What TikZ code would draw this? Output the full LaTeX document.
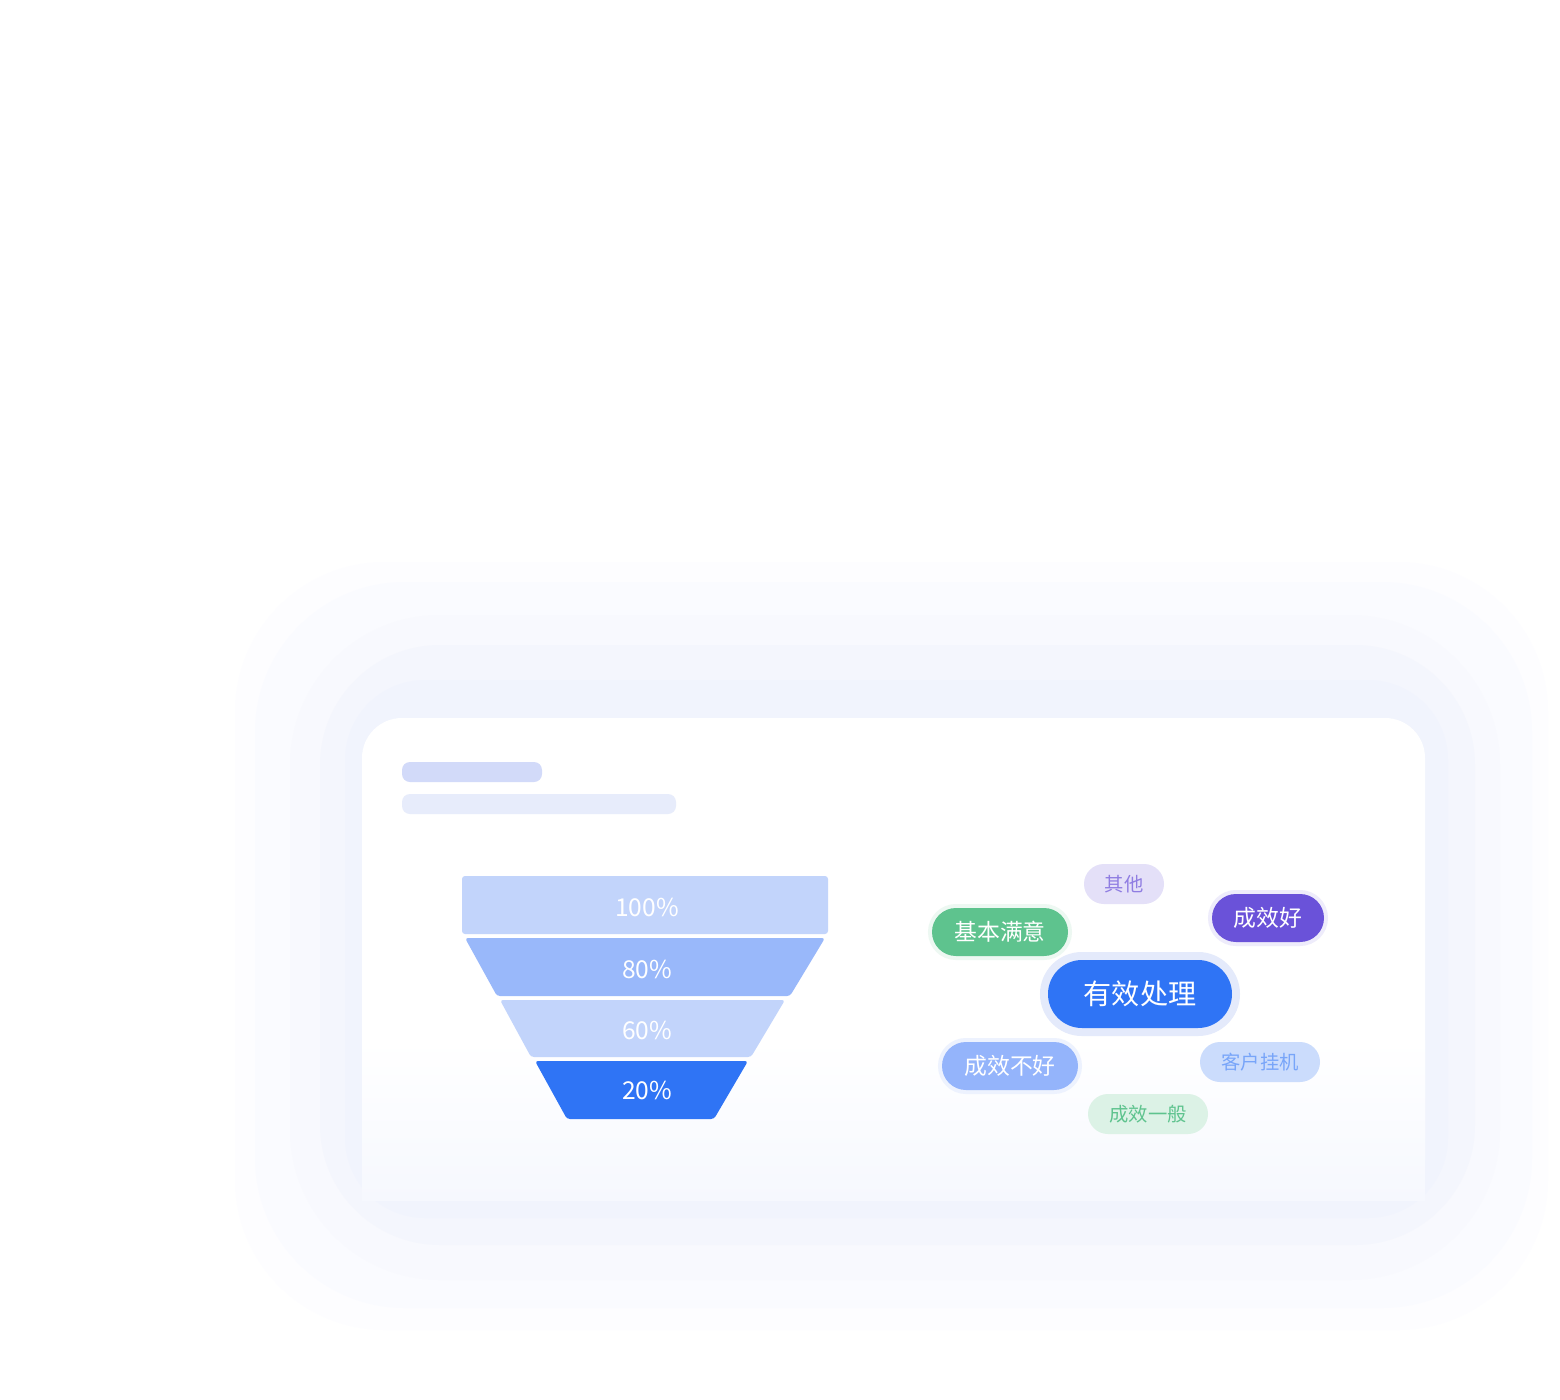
\documentclass[tikz,border=0pt]{standalone}
\usepackage{fontspec}
\usepackage{xcolor}
\usepackage{tikz}
\usetikzlibrary{shapes.misc}
\setmainfont{Noto Sans CJK SC}
\definecolor{fnlight}{HTML}{C2D4FB}
\definecolor{fnmid}{HTML}{99B8FA}
\definecolor{accent}{HTML}{2F74F5}
\definecolor{grn}{HTML}{5EC38E}
\definecolor{grnhalo}{HTML}{EDF8F2}
\definecolor{prp}{HTML}{6A52D9}
\definecolor{prphalo}{HTML}{EEECFB}
\definecolor{bluhalo}{HTML}{E4EAFB}
\definecolor{lblue}{HTML}{94B4FB}
\definecolor{lbluhalo}{HTML}{EDF2FE}
\definecolor{barA}{HTML}{D2DAF9}
\definecolor{barB}{HTML}{E7ECFB}
\definecolor{glowA}{HTML}{FDFDFF}
\definecolor{glowB}{HTML}{FAFBFF}
\definecolor{glowC}{HTML}{F8F9FE}
\definecolor{glowD}{HTML}{F4F6FD}
\definecolor{glowE}{HTML}{F1F4FD}
\definecolor{cardfoot}{HTML}{F6F8FE}
\newcommand{\pxu}{0.02cm}

\begin{document}
\begin{tikzpicture}[x=0.02cm,y=-0.02cm,
    tag/.style={rounded rectangle,inner sep=0pt,minimum height=48*\pxu,text=white,font=\fontsize{13}{15}\selectfont},
    halo/.style={preaction={draw=#1,line width=8*\pxu}},
    pill/.style={rounded rectangle,inner sep=0pt,minimum width=120*\pxu,minimum height=40*\pxu,font=\fontsize{11}{13}\selectfont},
    pct/.style={text=white,font=\fontsize{14}{16}\selectfont},
    glow/.style={fill=#1,rounded corners=150*\pxu}]
   \useasboundingbox[fill=white] (0,0) rectangle (1560,1400);
   % soft shadow behind the card
   \fill[glow=glowA] (235,562) rectangle (1548,1330);
   \fill[glow=glowB] (255,582) rectangle (1532,1308);
   \fill[glow=glowC] (290,615) rectangle (1500,1280);
   \fill[glow=glowD,rounded corners=120*\pxu] (320,645) rectangle (1475,1245);
   \fill[glow=glowE,rounded corners=80*\pxu]  (345,680) rectangle (1448,1218);
   % card
   \fill[white,rounded corners=40*\pxu] (362,718) rectangle (1425,1200);
   \shade[top color=white,bottom color=cardfoot] (362,1040) rectangle (1425,1200);
   \fill[barA,rounded corners=8*\pxu] (402,762) rectangle (542,782);
   \fill[barB,rounded corners=8*\pxu] (402,794) rectangle (676,814);
   % funnel
   \fill[fnlight,rounded corners=3*\pxu] (462,876) rectangle (828,934);
   \fill[fnmid,rounded corners=3*\pxu] (465,938) -- (825,938) -- (790,996) -- (497,996) -- cycle;
   \fill[fnlight,rounded corners=3*\pxu] (500,1000) -- (785,1000) -- (751,1057) -- (531,1057) -- cycle;
   \fill[accent,rounded corners=3*\pxu] (535,1061) -- (748,1061) -- (714,1119) -- (567,1119) -- cycle;
   \node[pct] (p100) at (647,907)  {100\%};
   \node[pct] (p80)  at (647,969)  {80\%};
   \node[pct] (p60)  at (647,1030) {60\%};
   \node[pct] (p20)  at (647,1090) {20\%};
   % tags
   \node[pill,fill=prp!18!white,text=prp!75!white] (other) at (1124,884) [minimum width=80*\pxu] {其他};
   \node[tag,fill=prp,halo=prphalo,minimum width=112*\pxu] (good) at (1268,918) {成效好};
   \node[tag,fill=grn,halo=grnhalo,minimum width=136*\pxu] (ok) at (1000,932) {基本满意};
   \node[tag,fill=accent,preaction={draw=bluhalo,line width=16*\pxu},minimum width=184*\pxu,minimum height=68*\pxu,font=\fontsize{16}{18}\selectfont] (valid) at (1140,994) {有效处理};
   \node[tag,fill=lblue,halo=lbluhalo,minimum width=136*\pxu] (bad) at (1010,1066) {成效不好};
   \node[pill,fill=accent!25!white,text=accent!65!white] (hang) at (1260,1062) {客户挂机};
   \node[pill,fill=grn!22!white,text=grn] (avg) at (1148,1114) {成效一般};
  \end{tikzpicture}
\end{document}
